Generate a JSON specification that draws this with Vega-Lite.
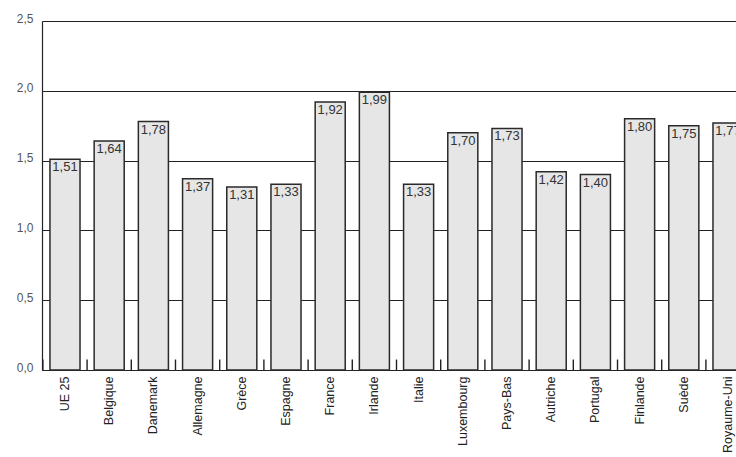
{
  "$schema": "https://vega.github.io/schema/vega-lite/v6.json",
  "autosize": {"type": "none"},
  "padding": {"left": 42, "top": 21, "right": 0, "bottom": 87},
  "width": 709,
  "height": 349,
  "background": "white",
  "config": {
    "locale": {"number": {"decimal": ",", "thousands": " ", "grouping": [3], "currency": ["", " €"]}},
    "view": {"stroke": null},
    "font": "Liberation Sans"
  },
  "data": {"values": [
    {"pays": "UE 25", "v": 1.51},
    {"pays": "Belgique", "v": 1.64},
    {"pays": "Danemark", "v": 1.78},
    {"pays": "Allemagne", "v": 1.37},
    {"pays": "Grèce", "v": 1.31},
    {"pays": "Espagne", "v": 1.33},
    {"pays": "France", "v": 1.92},
    {"pays": "Irlande", "v": 1.99},
    {"pays": "Italie", "v": 1.33},
    {"pays": "Luxembourg", "v": 1.70},
    {"pays": "Pays-Bas", "v": 1.73},
    {"pays": "Autriche", "v": 1.42},
    {"pays": "Portugal", "v": 1.40},
    {"pays": "Finlande", "v": 1.80},
    {"pays": "Suède", "v": 1.75},
    {"pays": "Royaume-Uni", "v": 1.77}
  ]},
  "encoding": {
    "x": {"field": "pays", "type": "nominal", "sort": null, "title": null,
      "scale": {"paddingInner": 0, "paddingOuter": 0.02},
      "axis": {"orient": "bottom", "labelAngle": -90, "labelAlign": "right", "labelBaseline": "middle",
        "labelFontSize": 12.5, "labelColor": "#222", "labelPadding": 6,
        "ticks": false, "domain": true, "domainColor": "#222", "domainWidth": 1.2}}
  },
  "layer": [
    {
      "mark": {"type": "bar", "fill": "#e6e6e6", "stroke": "#2a2a2a", "strokeWidth": 1.5, "width": {"band": 0.68}},
      "encoding": {
        "y": {"field": "v", "type": "quantitative", "title": null,
          "scale": {"domain": [0, 2.5], "nice": false},
          "axis": {"values": [0, 0.5, 1, 1.5, 2, 2.5],
            "labelExpr": "replace(format(datum.value, '.1f'), '.', ',')", "ticks": false,
            "grid": true, "gridColor": "#222", "gridWidth": 1.2,
            "domain": true, "domainColor": "#222", "domainWidth": 1.2,
            "labelFontSize": 12, "labelColor": "#555", "labelPadding": 9,
            "labelBaseline": "middle", "labelOffset": -3}}
      }
    },
    {
      "mark": {"type": "rule", "color": "#222", "strokeWidth": 1.4},
      "encoding": {
        "x": {"field": "pays", "type": "nominal", "sort": null, "bandPosition": 0},
        "y": {"datum": 0, "type": "quantitative"},
        "y2": {"datum": 0.075}
      }
    },
    {
      "mark": {"type": "text", "baseline": "top", "dy": 2, "fontSize": 13, "color": "#333"},
      "encoding": {
        "y": {"field": "v", "type": "quantitative"},
        "text": {"field": "v", "type": "quantitative", "format": ".2f"}
      }
    }
  ]
}
